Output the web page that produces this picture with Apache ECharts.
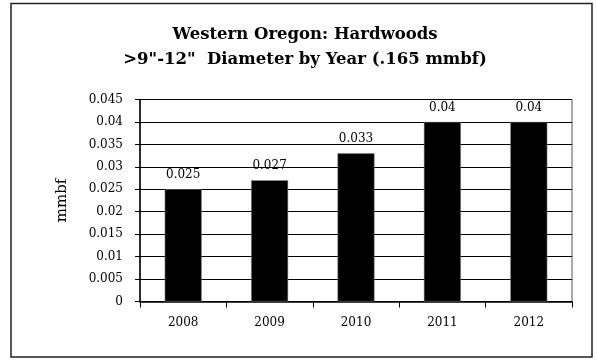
<!DOCTYPE html>
<html><head><meta charset="utf-8">
<script src="https://cdn.jsdelivr.net/npm/echarts@6/dist/echarts.min.js"></script>
<style>html,body{margin:0;padding:0;background:#fff}#c{width:597px;height:360px}</style>
</head><body><div id="c"></div>
<script>
var categories = ['2008', '2009', '2010', '2011', '2012'];
var values = [0.025, 0.027, 0.033, 0.04, 0.04];
var labels = ['0.025', '0.027', '0.033', '0.04', '0.04'];
var yTicks = ['0', '0.005', '0.01', '0.015', '0.02', '0.025', '0.03', '0.035', '0.04', '0.045'];

var font = '"DejaVu Serif", serif';
var chart = echarts.init(document.getElementById('c'), null, {renderer: 'canvas'});
chart.setOption({
  animation: false,
  backgroundColor: '#fff',
  title: {
    text: 'Western Oregon: Hardwoods\n>9"-12"  Diameter by Year (.165 mmbf)',
    left: 300, top: 17, textAlign: 'center',
    textStyle: {fontFamily: font, fontWeight: 'bold', fontSize: 16.5, color: '#000', lineHeight: 25}
  },
  graphic: [{
    type: 'rect', shape: {x: 11, y: 3.5, width: 581, height: 353.5},
    style: {fill: null, stroke: '#222', lineWidth: 1.5}, z: -1
  }],
  grid: {left: 140, right: 25, top: 99.5, bottom: 58.5, show: true, borderColor: '#555', borderWidth: 1},
  xAxis: {
    type: 'category', data: categories,
    axisLine: {lineStyle: {color: '#000', width: 1.5}},
    axisTick: {show: true, inside: false, length: 6, alignWithLabel: false, lineStyle: {color: '#000'}},
    axisLabel: {fontFamily: font, fontSize: 12, color: '#000', margin: 15}
  },
  yAxis: {
    type: 'value', min: 0, max: 0.045, interval: 0.005,
    name: 'mmbf', nameLocation: 'middle', nameGap: 70, nameRotate: 90,
    nameTextStyle: {fontFamily: font, fontSize: 15, color: '#000'},
    axisLine: {show: true, lineStyle: {color: '#000', width: 1.5}},
    axisTick: {show: true, length: 5, lineStyle: {color: '#000'}},
    axisLabel: {fontFamily: font, fontSize: 12, color: '#000', margin: 17,
      formatter: function (v) { var i = Math.round(v / 0.005); return yTicks[i]; }},
    splitLine: {show: true, lineStyle: {color: '#000', width: 1}}
  },
  series: [{
    type: 'bar', data: values, barWidth: 37,
    itemStyle: {color: '#000', borderColor: '#888', borderWidth: 0.5},
    label: {show: true, position: 'top', distance: 8, fontFamily: font, fontSize: 12, color: '#000',
      formatter: function (p) { return labels[p.dataIndex]; }}
  }]
});
</script></body></html>
